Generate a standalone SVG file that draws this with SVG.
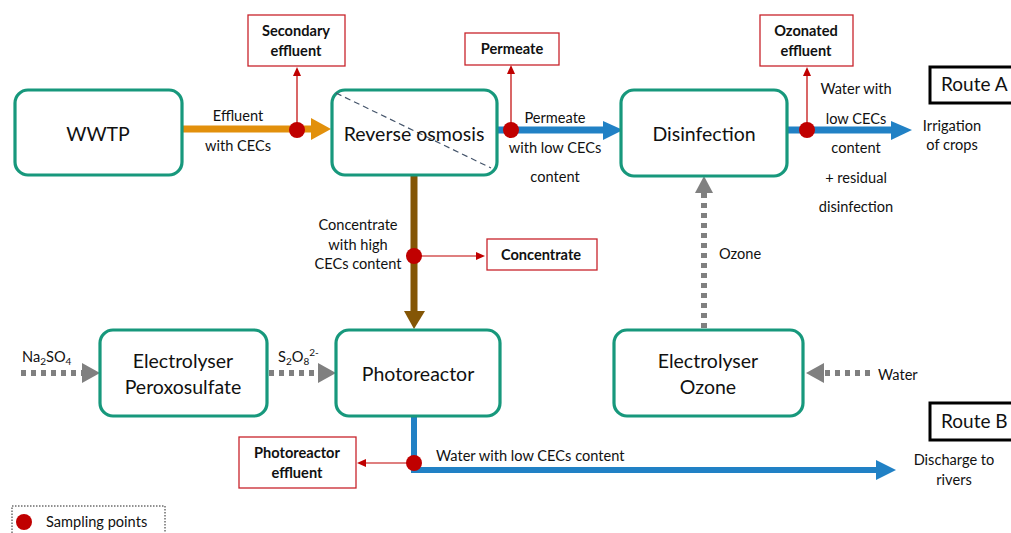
<svg xmlns="http://www.w3.org/2000/svg" width="1011" height="533" viewBox="0 0 1011 533">
<style>
.node{fill:#fff;stroke:#17987c;stroke-width:3.2}
.nt{font-family:Lato,"Liberation Sans",sans-serif;font-size:19.5px;fill:#111;text-anchor:middle}
.lb{font-family:Lato,"Liberation Sans",sans-serif;font-size:14.6px;fill:#111}
.c{text-anchor:middle}
.sb{fill:#fff;stroke:#c8242b;stroke-width:1.3}
.st{font-family:Lato,"Liberation Sans",sans-serif;font-size:14.6px;font-weight:bold;fill:#111;text-anchor:middle}
.rl{stroke:#c00000;stroke-width:1.2;fill:none}
.dot{fill:#c00000}
.gd{stroke:#808080;stroke-width:6;stroke-dasharray:5 5;fill:none}
.route{fill:#fff;stroke:#000;stroke-width:3}
.rt{font-family:Lato,"Liberation Sans",sans-serif;font-size:19px;fill:#111}
</style>
<rect width="1011" height="533" fill="#fff"/>
<g id="connectors">
  <line x1="182" y1="129" x2="313" y2="129" stroke="#e2900c" stroke-width="7"/>
  <polygon points="311,118 331,129 311,140" fill="#e2900c"/>
  <line x1="497" y1="130" x2="605" y2="130" stroke="#2181c5" stroke-width="7"/>
  <polygon points="603,121 623,130 603,140" fill="#2181c5"/>
  <line x1="787" y1="130" x2="893" y2="130" stroke="#2181c5" stroke-width="7"/>
  <polygon points="891,121 912,130 891,140" fill="#2181c5"/>
  <line x1="414" y1="176" x2="414" y2="313" stroke="#845606" stroke-width="7"/>
  <polygon points="404,311 414,329 425,311" fill="#845606"/>
  <polyline points="414,416 414,470 878,470" stroke="#2181c5" stroke-width="6" fill="none"/>
  <polygon points="876,460 896,470 876,480" fill="#2181c5"/>
  <line class="gd" x1="21" y1="373" x2="82" y2="373"/>
  <polygon points="82,363 100,373 82,383" fill="#808080"/>
  <line class="gd" x1="269" y1="373" x2="318" y2="373"/>
  <polygon points="318,363 336,373 318,383" fill="#808080"/>
  <line class="gd" x1="704" y1="328" x2="704" y2="193"/>
  <polygon points="695,193 704,176 713,193" fill="#808080"/>
  <line class="gd" x1="870" y1="373" x2="824" y2="373"/>
  <polygon points="824,363 806,373 824,383" fill="#808080"/>
  <line class="rl" x1="297" y1="130" x2="297" y2="76"/>
  <polygon points="293,76 297,67 301,76" fill="#c00000"/>
  <line class="rl" x1="511" y1="130" x2="511" y2="74"/>
  <polygon points="507,74 511,65 515,74" fill="#c00000"/>
  <line class="rl" x1="807" y1="130" x2="807" y2="76"/>
  <polygon points="803,76 807,67 811,76" fill="#c00000"/>
  <line class="rl" x1="414" y1="256" x2="476" y2="256"/>
  <polygon points="476,252 485,256 476,260" fill="#c00000"/>
  <line class="rl" x1="414" y1="463" x2="366" y2="463"/>
  <polygon points="366,459 357,463 366,467" fill="#c00000"/>
  <circle class="dot" cx="297" cy="130" r="8"/>
  <circle class="dot" cx="511" cy="130" r="8"/>
  <circle class="dot" cx="807" cy="130" r="8"/>
  <circle class="dot" cx="414" cy="256" r="8"/>
  <circle class="dot" cx="414" cy="463" r="8"/>
</g>
<g id="wwtp"><rect class="node" x="15" y="90" width="167" height="85" rx="13"/><text class="nt" x="98" y="141">WWTP</text></g>
<g id="ro"><rect class="node" x="332" y="90" width="165" height="85" rx="13"/>
  <line x1="336" y1="93" x2="491" y2="168" stroke="#44546a" stroke-width="1.2" stroke-dasharray="6 4"/>
  <text class="nt" x="414" y="141">Reverse osmosis</text></g>
<g id="disinfection"><rect class="node" x="621" y="90" width="166" height="86" rx="13"/><text class="nt" x="704" y="141">Disinfection</text></g>
<g id="photoreactor"><rect class="node" x="336" y="330" width="164" height="86" rx="13"/><text class="nt" x="418" y="381">Photoreactor</text></g>
<g id="electrolyser-peroxo"><rect class="node" x="100" y="330" width="167" height="86" rx="13"/><text class="nt" x="183" y="368">Electrolyser</text><text class="nt" x="183" y="394">Peroxosulfate</text></g>
<g id="electrolyser-ozone"><rect class="node" x="614" y="330" width="189" height="86" rx="13"/><text class="nt" x="708" y="368">Electrolyser</text><text class="nt" x="708" y="394">Ozone</text></g>
<g id="sample-secondary"><rect class="sb" x="248" y="15" width="97" height="51"/><text class="st" x="296" y="36">Secondary</text><text class="st" x="296" y="56">effluent</text></g>
<g id="sample-permeate"><rect class="sb" x="465" y="33" width="94" height="32"/><text class="st" x="512" y="54">Permeate</text></g>
<g id="sample-ozonated"><rect class="sb" x="760" y="15" width="93" height="51"/><text class="st" x="806" y="36">Ozonated</text><text class="st" x="806" y="56">effluent</text></g>
<g id="sample-concentrate"><rect class="sb" x="487" y="239" width="110" height="31"/><text class="st" x="541" y="260">Concentrate</text></g>
<g id="sample-photoreactor"><rect class="sb" x="239" y="437" width="117" height="51"/><text class="st" x="297" y="458">Photoreactor</text><text class="st" x="297" y="478">effluent</text></g>
<g id="route-a"><rect class="route" x="930" y="67" width="90" height="36"/><text class="rt" x="941" y="91">Route A</text></g>
<g id="route-b"><rect class="route" x="930" y="403" width="90" height="37"/><text class="rt" x="941" y="428">Route B</text></g>
<g id="labels">
  <text class="lb c" x="238" y="121">Effluent</text>
  <text class="lb c" x="238" y="151">with CECs</text>
  <text class="lb c" x="555" y="123">Permeate</text>
  <text class="lb c" x="555" y="153">with low CECs</text>
  <text class="lb c" x="555" y="182">content</text>
  <text class="lb c" x="856" y="94">Water with</text>
  <text class="lb c" x="856" y="124">low CECs</text>
  <text class="lb c" x="856" y="153">content</text>
  <text class="lb c" x="856" y="183">+ residual</text>
  <text class="lb c" x="856" y="212">disinfection</text>
  <text class="lb c" x="952" y="131">Irrigation</text>
  <text class="lb c" x="952" y="150">of crops</text>
  <text class="lb c" x="358" y="230">Concentrate</text>
  <text class="lb c" x="358" y="250">with high</text>
  <text class="lb c" x="358" y="269">CECs content</text>
  <text class="lb" x="719" y="259">Ozone</text>
  <text class="lb" x="878" y="380">Water</text>
  <text class="lb" x="436" y="461">Water with low CECs content</text>
  <text class="lb c" x="954" y="465">Discharge to</text>
  <text class="lb c" x="954" y="485">rivers</text>
  <text class="lb" x="22" y="362">Na<tspan font-size="10" dy="3">2</tspan><tspan dy="-3">SO</tspan><tspan font-size="10" dy="3">4</tspan></text>
  <text class="lb" x="278" y="362">S<tspan font-size="10" dy="3">2</tspan><tspan dy="-3">O</tspan><tspan font-size="10" dy="3">8</tspan><tspan font-size="10" dy="-9">2-</tspan></text>
</g>
<g id="legend">
  <rect x="12" y="506" width="153" height="30" fill="none" stroke="#222" stroke-width="1" stroke-dasharray="1.5 1.5"/>
  <circle class="dot" cx="24" cy="522" r="8"/>
  <text class="lb" x="46" y="527">Sampling points</text>
</g>
</svg>
